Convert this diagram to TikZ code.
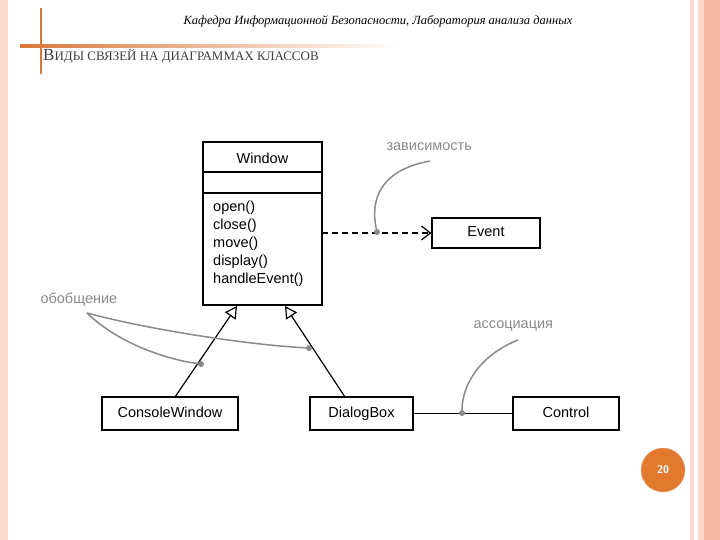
\documentclass[tikz,border=0pt]{standalone}
\usepackage{fontspec}
\setmainfont{Liberation Serif}
\newfontfamily\sans{Liberation Sans}
\usetikzlibrary{arrows.meta}
\definecolor{org}{HTML}{D9783A}
\definecolor{pk}{HTML}{FBD9CC}
\definecolor{pk2}{HTML}{F7B8A2}
\definecolor{gy}{HTML}{8A8A8A}
\begin{document}
\begin{tikzpicture}[x=1pt,y=-1pt,
 cls/.style={draw,line width=1.2pt,inner sep=0,text height=10.5pt,text depth=3pt},
 lbl/.style={font=\sans\fontsize{14.5}{17}\selectfont},
 note/.style={font=\sans\fontsize{14.5}{17}\selectfont,text=gy},
 call/.style={gy,line width=1.5pt},
 dot/.style={circle,fill=gy,inner sep=0,minimum size=6pt}]
\useasboundingbox (0,0) rectangle (720,540);
\fill[white] (0,0) rectangle (720,540);
\fill[pk] (0,0) rectangle (8,540);
\fill[pk] (690,0) rectangle (694,540);
\fill[pk] (698,0) rectangle (704,540);
\fill[pk2] (704,0) rectangle (720,540);
\draw[org,line width=2.5pt] (41,8) -- (41,74);
\shade[left color=org,right color=white] (20,44.5) rectangle (400,47.5);
\node[font=\itshape\fontsize{12.5}{14}\selectfont,anchor=base] (hdr) at (378,25) {Кафедра Информационной Безопасности, Лаборатория анализа данных};
\node[font=\fontsize{17}{19}\selectfont,anchor=base west,text=black!75,inner sep=0] (ttl) at (43,61) {В\fontsize{13}{15}\selectfont ИДЫ СВЯЗЕЙ НА ДИАГРАММАХ КЛАССОВ};
% classes
\draw[line width=1.2pt] (203,142) rectangle (322,305);
\draw[line width=1.2pt] (203,172) -- (322,172) (203,193) -- (322,193);
\node[lbl] (wname) at (262.5,158) {Window};
\node[lbl,anchor=north west,align=left,inner sep=0,font=\sans\fontsize{14.5}{18}\selectfont] (wops) at (213,201) {open()\\close()\\move()\\display()\\handleEvent()};
\node[cls,minimum width=108pt,minimum height=30pt,lbl] (ev) at (486,233) {Event};
\node[cls,minimum width=136pt,minimum height=33pt,lbl] (cw) at (170,413.5) {ConsoleWindow};
\node[cls,minimum width=103pt,minimum height=33pt,lbl] (db) at (361.5,413.5) {DialogBox};
\node[cls,minimum width=106pt,minimum height=33pt,lbl] (ct) at (566,413.5) {Control};
\coordinate (wr) at (322,233);
\coordinate (g1) at (237,306);
\coordinate (g2) at (285,306);
\draw[line width=1.2pt,dashed,dash pattern=on 6pt off 4pt,-{Straight Barb[length=9pt,width=14pt]}] (wr) -- (ev.west);
\draw[line width=1.2pt,-{Triangle[open,length=12pt,width=13pt,fill=white]}] (175,397) -- (g1);
\draw[line width=1.2pt,-{Triangle[open,length=12pt,width=13pt,fill=white]}] (345,397) -- (g2);
\draw[line width=1.2pt] (db.east) -- (ct.west);
% notes
\node[note,anchor=west] (n1) at (383,147) {зависимость};
\node[note,anchor=west] (n2) at (37,300) {обобщение};
\node[note,anchor=west] (n3) at (470,326) {ассоциация};
\node[dot] (d1) at (377,232) {};
\node[dot] (d2) at (201,364) {};
\node[dot] (d3) at (309,348) {};
\node[dot] (d4) at (462,413) {};
\draw[call] (430,161) .. controls (380,170) and (370,200) .. (d1);
\draw[call] (87,313) .. controls (120,345) and (170,360) .. (d2);
\draw[call] (87,313) .. controls (150,330) and (250,345) .. (d3);
\draw[call] (518,340) .. controls (480,355) and (462,385) .. (d4);
\node[circle,fill=org!80!orange,draw=org!60,minimum size=44pt,text=white,font=\bfseries\fontsize{12}{14}\selectfont] (pg) at (663,470) {20};
\end{tikzpicture}
\end{document}
